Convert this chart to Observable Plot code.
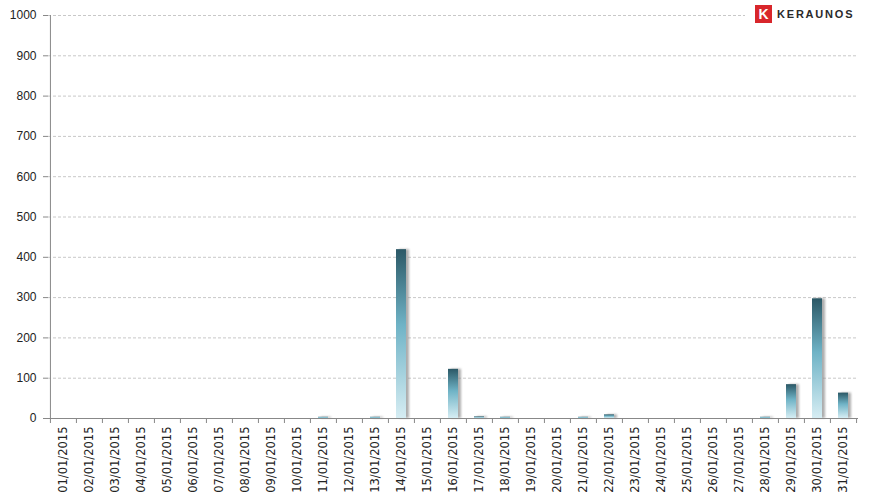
<!DOCTYPE html>
<html><head><meta charset="utf-8">
<script src="https://cdn.jsdelivr.net/npm/d3@7"></script>
<script src="https://cdn.jsdelivr.net/npm/@observablehq/plot@0.6"></script>
<style>
body{margin:0;background:#fff;}
#wrap{position:relative;width:871px;height:501px;}
.shadow rect{filter:blur(1.2px);}
#logo{position:absolute;left:745px;top:4px;width:116px;height:19px;background:#fff;display:flex;align-items:center;}
#logo .k{display:inline-block;width:17px;height:18px;margin-left:10px;background:#d8262b;color:#fff;font:bold 14px "Liberation Sans",sans-serif;text-align:center;line-height:18px;}
#logo .t{margin-left:5px;font:bold 11px "Liberation Sans",sans-serif;letter-spacing:1.8px;color:#2a2a2a;}
</style></head><body>
<div id="wrap"><div id="logo"><span class="k">K</span><span class="t">KERAUNOS</span></div></div>
<script>
const days = ["01/01/2015","02/01/2015","03/01/2015","04/01/2015","05/01/2015","06/01/2015","07/01/2015","08/01/2015","09/01/2015","10/01/2015","11/01/2015","12/01/2015","13/01/2015","14/01/2015","15/01/2015","16/01/2015","17/01/2015","18/01/2015","19/01/2015","20/01/2015","21/01/2015","22/01/2015","23/01/2015","24/01/2015","25/01/2015","26/01/2015","27/01/2015","28/01/2015","29/01/2015","30/01/2015","31/01/2015"];
const values = [0,0,0,0,0,0,0,0,0,0,3,0,3,419,0,122,4,3,0,0,3,9,0,0,0,0,0,3,84,297,63];
const yTicks = [0,100,200,300,400,500,600,700,800,900,1000];

const data = days.map((d, i) => ({day: d, value: values[i]}));
const W = 871, H = 501, ML = 48, MR = 13, MT = 15, MB = 83;
const step = (W - ML - MR) / days.length;

const chart = Plot.plot({
  width: W, height: H,
  marginLeft: ML, marginRight: MR, marginTop: MT, marginBottom: MB,
  style: {fontFamily: "DejaVu Sans, sans-serif", fontSize: "11px", color: "#222", background: "#fff"},
  x: {domain: days, padding: 0, label: null},
  y: {domain: [0, 1000], label: null},
  marks: [
    Plot.gridY(yTicks, {stroke: "#c8c8c8", strokeOpacity: 1, strokeDasharray: "3,2"}),
    Plot.axisY(yTicks, {tickSize: 5, tickPadding: 7, stroke: "#888", fontFamily: "Liberation Sans, sans-serif", fontSize: 12, fill: "#222", tickFormat: d => String(d), label: null}),
    Plot.axisX({tickSize: 0, tickPadding: 8, tickRotate: -90, fill: "#222", fontSize: 11.5, label: null}),
    Plot.axisX(days, {tickSize: 5, text: null, dx: -step / 2, stroke: "#888", label: null}),
    Plot.axisX([days[days.length - 1]], {tickSize: 5, text: null, dx: step / 2, stroke: "#888", label: null}),
    Plot.barY(data, {x: "day", y: "value", fill: "#8a8a8a", fillOpacity: 0.7, insetLeft: 8, insetRight: 8, dx: 3, className: "shadow"}),
    Plot.barY(data, {x: "day", y: "value", fill: "url(#barGrad)", insetLeft: 8, insetRight: 8}),
    Plot.ruleX([days[0]], {dx: -step / 2, stroke: "#888"}),
    Plot.ruleY([0], {stroke: "#888"})
  ]
});

d3.select(chart).insert("defs", ":first-child").html(
  `<linearGradient id="barGrad" x1="0" y1="0" x2="0" y2="1">
     <stop offset="0" stop-color="#2b5866"/>
     <stop offset="0.45" stop-color="#6fb3c6"/>
     <stop offset="1" stop-color="#d6edf3"/>
   </linearGradient>`
);

document.getElementById("wrap").prepend(chart);
</script>
</body></html>
